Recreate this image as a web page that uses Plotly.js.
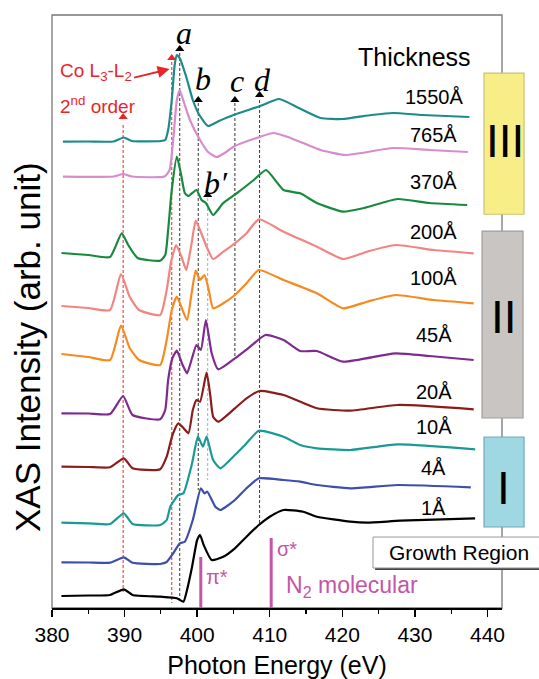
<!DOCTYPE html>
<html><head><meta charset="utf-8">
<script src="https://cdn.plot.ly/plotly-3.0.1.min.js"></script>
<style>html,body{margin:0;padding:0;background:#fff}#chart{width:539px;height:679px}</style>
</head><body><div id="chart"></div>
<script>
// ---- data (photon energy in eV, stacked XAS intensity in arb. units) ----
const thickness = ['1550Å','765Å','370Å','200Å','100Å','45Å','20Å','10Å','4Å','1Å'];

const e1550 = [381.5,385,388.5,389.9,391,395,395.6,396.0,396.5,396.9,397.2,397.6,398.5,399.4,400.3,401.5,403,405,408.7,411.3,414,417,420,424,427,431,437.5];
const i1550 = [466.3,466.5,466.5,470.5,467,467,468,478,508,543,553,550,531,508,493,482,487,493,502,509,500,490,489,493,495,493,491];

const e765 = [381.5,388.5,389.8,391,395.5,396.2,396.7,397.2,397.6,398.2,399,400.4,401.5,402.7,404,405,408.7,410.5,412.5,417,420.4,427,432,437.3];
const i765 = [431.3,431.5,434,431.5,431.5,438,468,508,518,505,488,468,456,451,456,461.3,471.3,475,471,458,453,460,458,456];

const e370 = [381.3,385,388,389.6,390.5,391.8,394.9,395.6,396.0,396.5,397.2,397.8,398.3,398.8,399.9,400.6,401.2,402.2,403.6,405.5,407.8,409.5,411.9,414.2,416.5,420.1,423,427.6,432,437.2];
const i370 = [355,353,351,374.7,363,350,347.3,353,378,418,451.3,433,415,412,418,408,405,393,405,415,428,438,418,414.7,405,396.3,400,409,405,403];

const e200 = [381.3,385,388,389.5,390.7,392,394.9,395.8,396.4,397.1,397.8,398.5,399.2,399.8,400.5,401.3,402.2,403.6,405.2,406.8,408.5,411.9,416.5,420.1,423.4,427.3,432.6,438.1];
const i200 = [302,300,298,334,311.3,298,293,318,346,363,352,338,363,387.3,376,361.3,349,356.3,364.7,374.7,388.7,376.3,361.3,349,356.3,363,358,354.7];

const e100 = [381.3,385,388,389.5,390.7,392,394.9,395.8,396.5,397.2,398.6,399.2,399.8,400.4,401,401.6,402.2,403.6,405.2,406.8,408.5,411.9,416.5,420.1,423.4,427.3,432.6,438.1];
const i100 = [254,251,248,282.3,260,248,243,268,298,311.3,288,313,337.3,328,333,318,299.7,304.7,313,324.7,338,328,314.7,299.7,306.3,313,308,304.7];

const e45 = [381.3,385,388,389.8,391.1,394.9,395.6,396,396.6,397.2,398,398.6,399.3,399.9,400.5,401.2,402,402.9,405.2,407.3,409.4,411.9,414.2,416.5,420.1,427.3,432,438.1];
const i45 = [194.7,194.5,194,212,193,188.7,198,228,250,257.3,243,234.7,250,263,258,288,254.7,238.7,249.7,261.3,273,268,257,257,246.3,254.7,252,248];

const e20 = [381.3,385,388,389.9,391.1,394.9,395.8,396.6,397.4,398.1,398.8,399.4,399.9,400.4,401.3,401.8,402.2,402.9,405.2,406.8,408.6,411.9,416.5,421.1,427.6,438.1];
const i20 = [141.3,141,140.7,149.7,139.7,138.7,151.3,173,184.7,180,174.7,198,208,206.3,235.3,213,191.3,186.3,199.7,209.7,217,213,199.7,197.3,203,198.7];

const e10 = [381.3,385,388,389.9,391.1,394.9,395.8,396.3,397.4,398.1,399.3,400.1,400.8,401.3,402.2,403.2,405.2,406.8,408.5,411.9,414.2,416.5,421.1,427.6,438.3];
const i10 = [85.3,84.7,84,94.7,84,83,88,101.3,113,114.7,144.7,171.3,161.3,171.3,148,139.7,153,164.7,177.3,171.3,163,159.7,158,163.7,158.7];

const e4 = [381.3,385,388,389.9,391.1,394.9,395.8,396.7,397.6,398.3,399.4,400.5,401,401.4,402.5,403.2,405.2,406.8,408.5,411.9,414.2,416.5,421.1,427.6,437.7];
const i4 = [45.7,45.5,45.3,50.7,45.3,44,46,54.7,64.7,66.3,88,119.7,114.7,116.3,101.3,98,108,119.7,129.7,128,126.3,123,119.7,123,120.7];

const e1 = [381.3,385,388,389.9,391.1,394.9,397.2,398.1,398.6,399.3,400,400.4,400.9,402,403.6,405.2,406.8,408.5,410,411.9,414.6,416.5,421.1,423.4,428,438.3];
const i1 = [12,12.5,13,18.7,13,11.3,9.7,6.3,18,41.3,68,73,63,48,51.3,59.7,71.3,83,91.3,98,96.3,91.3,86.3,85.3,87.3,89.7];

// feature energies (eV)
const secondOrderE = 389.8;
const coL3L2E = 396.5;
const featureNames = ['a','b','b′','c','d'];
const featureE = [397.6, 400.15, 401.45, 405.2, 408.6];
const piStarE = 400.5;
const sigmaStarE = 410.2;
const growthRegions = ['III','II','I'];

// ---- styling / layout ----
const colors = ['#1e8b8b','#d68ccd','#178a3e','#f28482','#f7891f','#7e2b8f','#8a1c1c','#1a9a94','#3d4faa','#000000'];
const es = [e1550,e765,e370,e200,e100,e45,e20,e10,e4,e1];
const is = [i1550,i765,i370,i200,i100,i45,i20,i10,i4,i1];
const SANS = 'Liberation Sans, Arial, sans-serif';
const SERIF = 'Liberation Serif, Times New Roman, serif';
const MAG = '#c455a8';
const RED = '#e8262a';

const traces = es.map((e,k)=>({
  x:e, y:is[k], type:'scatter', mode:'lines',
  line:{color:colors[k], width:2.2, shape:'spline', smoothing:0.5},
  hoverinfo:'skip', showlegend:false
}));

// feature markers
const triY = [559, 508, 413, 508, 513];
traces.push({x:featureE, y:triY, type:'scatter', mode:'markers',
  marker:{symbol:'triangle-up', size:8, color:'#000'}, hoverinfo:'skip', showlegend:false});
traces.push({x:[secondOrderE, coL3L2E], y:[491, 550], type:'scatter', mode:'markers',
  marker:{symbol:'triangle-up', size:8, color:RED}, hoverinfo:'skip', showlegend:false});

const shapes = [];
// frame
shapes.push({type:'rect', xref:'paper', yref:'paper', x0:0, x1:1, y0:0, y1:1, line:{color:'#777', width:1.3}, layer:'below'});
// dashed guide lines
const dash = (x, y0, y1, c)=>({type:'line', xref:'x', yref:'y', x0:x, x1:x, y0:y0, y1:y1, line:{color:c, width:1, dash:'3px,2px'}, layer:'below'});
shapes.push(dash(secondOrderE, 483, 16, RED));
shapes.push(dash(coL3L2E, 546, 5, RED));
shapes.push(dash(featureE[0], 555, 8, '#333'));
shapes.push(dash(featureE[1], 505, 118, '#333'));
shapes.push(dash(featureE[2], 410, 128, '#aaa'));
shapes.push(dash(featureE[3], 505, 251, '#333'));
shapes.push(dash(featureE[4], 508, 83, '#333'));
// N2 molecular lines
shapes.push({type:'line', xref:'x', yref:'y', x0:piStarE, x1:piStarE, y0:0, y1:51, line:{color:MAG, width:3}});
shapes.push({type:'line', xref:'x', yref:'y', x0:sigmaStarE, x1:sigmaStarE, y0:0, y1:70, line:{color:MAG, width:3}});
// growth region boxes
shapes.push({type:'rect', xref:'paper', yref:'paper', x0:0.96, x1:1.049, y0:0.664, y1:0.902, fillcolor:'#f8ee88', line:{color:'#c9c27a', width:1.2}, layer:'above'});
shapes.push({type:'rect', xref:'paper', yref:'paper', x0:0.9556, x1:1.0467, y0:0.3204, y1:0.6357, fillcolor:'#c8c5c2', line:{color:'#a09d9a', width:1.2}, layer:'above'});
shapes.push({type:'rect', xref:'paper', yref:'paper', x0:0.96, x1:1.049, y0:0.1366, y1:0.2884, fillcolor:'#9fd8e2', line:{color:'#72a9b8', width:1.2}, layer:'above'});
// Growth Region legend box with shadow
shapes.push({type:'rect', xref:'paper', yref:'paper', x0:0.718, x1:1.11, y0:0.064, y1:0.116, fillcolor:'#444', line:{width:0}, layer:'above'});
shapes.push({type:'rect', xref:'paper', yref:'paper', x0:0.7133, x1:1.105, y0:0.0675, y1:0.1197, fillcolor:'#fff', line:{color:'#999', width:1}, layer:'above'});

const annotations = [];
// y-axis title (placed as rotated text to match the reference's offset)
annotations.push({x:-0.0556, y:0.44, xref:'paper', yref:'paper', text:'XAS Intensity (arb. unit)', textangle:-90, showarrow:false,
  font:{family:SANS, size:35, color:'#000'}, xanchor:'center', yanchor:'middle'});
// thickness labels
const labelY = [511, 473, 426, 376, 330, 273, 216, 181, 140, 100];
thickness.forEach((t,k)=>annotations.push({x:432.6, y:labelY[k], xref:'x', yref:'y', text:t, showarrow:false,
  font:{family:SANS, size:20, color:'#000'}, xanchor:'center', yanchor:'middle'}));
annotations.push({x:430, y:551, xref:'x', yref:'y', text:'Thickness', showarrow:false,
  font:{family:SANS, size:25, color:'#000'}, xanchor:'center', yanchor:'middle'});
// feature letters
const letterPos = [[398.2,575],[400.8,529],[402.6,425],[405.5,527],[409.0,528]];
featureNames.forEach((n,k)=>annotations.push({x:letterPos[k][0], y:letterPos[k][1], xref:'x', yref:'y',
  text:'<i>'+n+'</i>', showarrow:false, font:{family:SERIF, size:32, color:'#000'}, xanchor:'center', yanchor:'middle'}));
// Co L3-L2 2nd order
annotations.push({x:380.8, y:536, xref:'x', yref:'y', text:'Co L<sub>3</sub>-L<sub>2</sub>', showarrow:false,
  font:{family:SANS, size:19, color:RED}, xanchor:'left', yanchor:'middle'});
annotations.push({x:380.8, y:503, xref:'x', yref:'y', text:'2<sup>nd</sup> order', showarrow:false,
  font:{family:SANS, size:19, color:RED}, xanchor:'left', yanchor:'middle'});
annotations.push({x:396.2, y:539, xref:'x', yref:'y', ax:-37, ay:9, text:'', showarrow:true,
  arrowhead:2, arrowsize:1.2, arrowwidth:2, arrowcolor:RED});
// N2 labels
annotations.push({x:401.0, y:31, xref:'x', yref:'y', text:'π*', showarrow:false,
  font:{family:SANS, size:20, color:MAG}, xanchor:'left', yanchor:'middle'});
annotations.push({x:410.7, y:59, xref:'x', yref:'y', text:'σ*', showarrow:false,
  font:{family:SANS, size:20, color:MAG}, xanchor:'left', yanchor:'middle'});
annotations.push({x:412.0, y:22, xref:'x', yref:'y', text:'N<sub>2</sub> molecular', showarrow:false,
  font:{family:SANS, size:23, color:MAG}, xanchor:'left', yanchor:'middle'});
// growth region numerals
const romanPos = [[1.0067,0.7875],[1.0044,0.4899],[1.0044,0.2024]];
growthRegions.forEach((g,k)=>annotations.push({x:romanPos[k][0], y:romanPos[k][1], xref:'paper', yref:'paper', text:g, showarrow:false,
  font:{family:SANS, size:46, color:'#000'}, xanchor:'center', yanchor:'middle'}));
annotations.push({x:0.905, y:0.094, xref:'paper', yref:'paper', text:'Growth Region', showarrow:false,
  font:{family:SANS, size:21, color:'#000'}, xanchor:'center', yanchor:'middle'});

const layout = {
  width:539, height:679,
  margin:{l:52, r:37, t:15, b:71},
  paper_bgcolor:'#fff', plot_bgcolor:'#fff',
  font:{family:SANS, color:'#000'},
  xaxis:{range:[380,442], dtick:10, tick0:380, ticks:'outside', ticklen:7, tickwidth:1.5, tickcolor:'#000',
    minor:{dtick:5, ticks:'outside', ticklen:4, tickwidth:1.2, tickcolor:'#000'},
    showline:true, linecolor:'#000', linewidth:1.5, showgrid:false, zeroline:false,
    tickfont:{family:SANS, size:21, color:'#000'},
    title:{text:'Photon Energy (eV)', font:{family:SANS, size:25, color:'#000'}, standoff:12}, automargin:false},
  yaxis:{range:[0,593], showticklabels:false, ticks:'', showgrid:false, zeroline:false, showline:false, automargin:false},
  shapes:shapes, annotations:annotations, showlegend:false
};
Plotly.newPlot('chart', traces, layout, {staticPlot:true, displayModeBar:false});
</script></body></html>
